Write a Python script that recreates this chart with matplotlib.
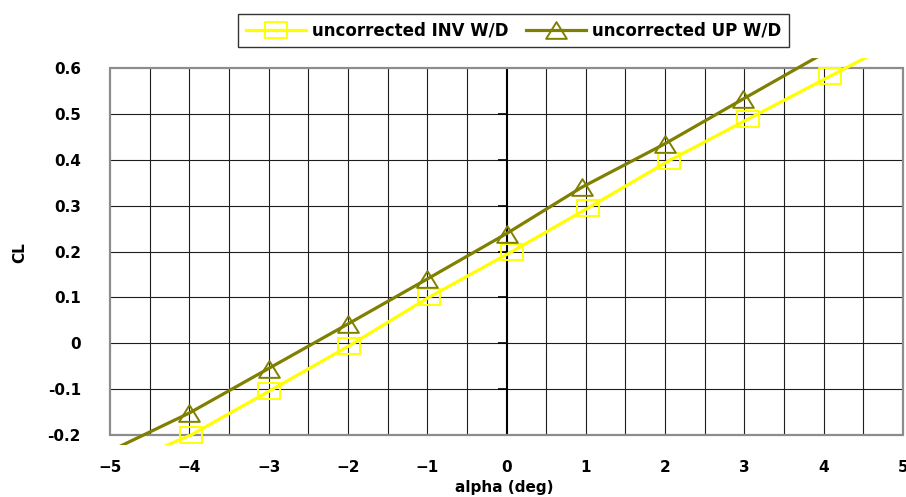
import matplotlib
matplotlib.use('Agg')
import matplotlib.pyplot as plt
import numpy as np
from matplotlib.path import Path
from matplotlib.patches import Rectangle

plt.rcParams.update({
    'font.family': ['DejaVu Sans'],
    'font.weight': 'bold',
    'font.size': 11,
})

# Lift coefficient vs angle of attack, wall/downwash not corrected.
# First and last entries only carry the line out to the plot edges (no marker).
alpha_inv = [-5.0, -3.98, -3.0, -1.98, -0.98, 0.07, 1.03, 2.05, 3.04, 4.08, 5.0]
cl_inv = [-0.275, -0.200, -0.105, -0.005, 0.100, 0.200, 0.295, 0.398, 0.488, 0.582, 0.665]

alpha_up = [-5.0, -4.0, -3.0, -2.0, -1.0, 0.0, 0.95, 2.0, 2.98, 5.0]
cl_up = [-0.235, -0.152, -0.055, 0.042, 0.140, 0.239, 0.340, 0.435, 0.532, 0.730]

x_ticks = [-5, -4, -3, -2, -1, 0, 1, 2, 3, 4, 5]
y_ticks = [-0.2, -0.1, 0, 0.1, 0.2, 0.3, 0.4, 0.5, 0.6]
y_tick_labels = ['-0.2', '-0.1', '0', '0.1', '0.2', '0.3', '0.4', '0.5', '0.6']

x_min, x_max = -5, 5
y_min, y_max = -0.2, 0.6
y_over = 0.0217  # series are drawn a little past the frame

# Wide box and wide triangle markers
box_marker = Path([(-1.375, -1), (1.375, -1), (1.375, 1), (-1.375, 1), (-1.375, -1)],
                  [Path.MOVETO, Path.LINETO, Path.LINETO, Path.LINETO, Path.CLOSEPOLY])
tri_marker = Path([(-1.24, -1), (1.24, -1), (0, 1), (-1.24, -1)],
                  [Path.MOVETO, Path.LINETO, Path.LINETO, Path.CLOSEPOLY])

fig = plt.figure(figsize=(9.06, 4.97), dpi=100)
ax = fig.add_axes([110 / 906, 52 / 497, 793 / 906, 387 / 497])
ax.set_xlim(x_min, x_max)
ax.set_ylim(y_min - y_over, y_max + y_over)

for s in ax.spines.values():
    s.set_visible(False)

# grid
x_grid = [v for v in np.arange(-4.5, 5.0, 0.5) if abs(v) > 1e-9]
y_grid = [v for v in y_ticks if y_min < v < y_max]
ax.vlines(x_grid, y_min, y_max, color='#1e1e1e', lw=0.8, zorder=1)
ax.hlines(y_grid, x_min, x_max, color='#1e1e1e', lw=0.8, zorder=1)

# value axis crossing at alpha = 0, with small outward ticks
ax.vlines(0, y_min, y_max, color='black', lw=1.5, zorder=2)
ax.hlines(y_ticks, -0.11, 0, color='black', lw=1.2, zorder=2)

ax.add_patch(Rectangle((x_min, y_min), x_max - x_min, y_max - y_min, fill=False,
                       edgecolor='#8c8c8c', lw=1.6, zorder=3, clip_on=False))

ax.plot(alpha_inv, cl_inv, color='#ffff00', lw=2.3, marker=box_marker, ms=15.5,
        mfc='none', mec='#ffff00', mew=1.4, markevery=slice(1, -1),
        label='uncorrected INV W/D', zorder=4)
ax.plot(alpha_up, cl_up, color='#808000', lw=2.3, marker=tri_marker, ms=14.9,
        mfc='none', mec='#808000', mew=1.4, markevery=slice(1, -1),
        label='uncorrected UP W/D', zorder=5)

ax.set_xticks(x_ticks)
ax.set_yticks(y_ticks)
ax.set_yticklabels(y_tick_labels)
ax.tick_params(axis='x', length=0, pad=11, labelsize=11)
ax.tick_params(axis='y', length=0, pad=21, labelsize=11)

ax.set_xlabel('alpha (deg)', fontsize=11, fontweight='bold')
ax.xaxis.set_label_coords(0.497, -0.11)
ax.xaxis.label.set_va('center')
ax.set_ylabel('CL', fontsize=11, fontweight='bold')
ax.yaxis.set_label_coords(-0.1135, 0.497)
ax.yaxis.label.set_va('center')

leg = fig.legend(loc='upper center', bbox_to_anchor=(0.567, 0.988), ncol=2,
                 fontsize=12, frameon=True, fancybox=False, edgecolor='black',
                 handlelength=3.6, handletextpad=0.4, columnspacing=1.0,
                 borderpad=0.45)
leg.get_frame().set_linewidth(1.0)
for t in leg.get_texts():
    t.set_fontweight('bold')

fig.savefig('out.png', dpi=100)
